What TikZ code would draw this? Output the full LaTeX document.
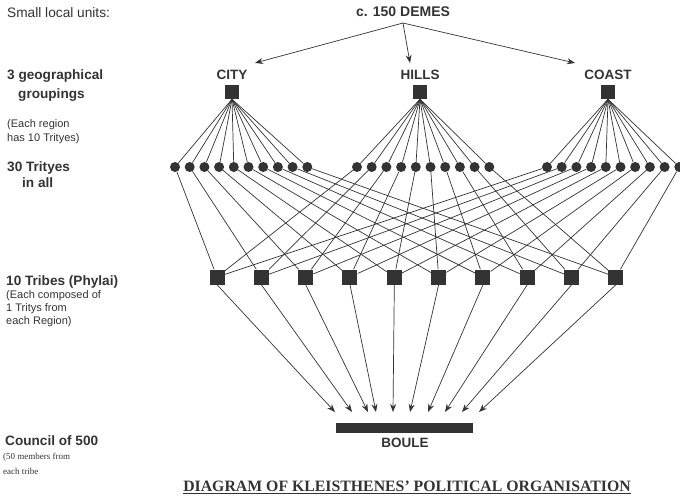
\documentclass[tikz,border=0pt]{standalone}
\usepackage{fontspec}
\setmainfont{Liberation Serif}
\setsansfont{Liberation Sans}
\usetikzlibrary{arrows.meta}

\definecolor{ink}{HTML}{333333}
\newcommand{\sfsize}[1]{\sffamily\fontsize{#1}{#1}\selectfont}

\tikzset{
  region/.style={fill=ink,minimum size=14pt,inner sep=0pt},
  trit/.style={circle,fill=ink,minimum size=10pt,inner sep=0pt},
  tribe/.style={fill=ink,minimum size=15pt,inner sep=0pt},
  link/.style={draw=ink,line width=0.7pt},
  feed/.style={link,-{Stealth[length=8pt,width=6pt]}},
  head/.style={font=\sfsize{13.5}\bfseries,text=ink,inner sep=0pt},
  side/.style={font=\sfsize{13.6}\bfseries,text=ink,anchor=west,inner sep=0pt},
  note/.style={font=\sfsize{11},text=ink,anchor=west,inner sep=0pt},
}

\begin{document}
\begin{tikzpicture}[x=1pt,y=-1pt]
  \useasboundingbox (0,0) rectangle (680,498);

  % left column
  \node[note,font=\sfsize{13.7}] (small) at (7,13) {Small local units:};
  \node[side] (geo1) at (7,76) {3 geographical};
  \node[side] (geo2) at (18,95) {groupings};
  \node[note] (geo3) at (7,125) {(Each region};
  \node[note] (geo4) at (7,139) {has 10 Trityes)};
  \node[side] (tri1) at (7,168) {30 Trityes};
  \node[side] (tri2) at (22,183) {in all};
  \node[side] (phy1) at (6,282) {10 Tribes (Phylai)};
  \node[note] (phy2) at (6,296) {(Each composed of};
  \node[note] (phy3) at (6,309) {1 Tritys from};
  \node[note] (phy4) at (6,322) {each Region)};
  \node[side] (cou1) at (5,441) {Council of 500};
  \node[anchor=west,inner sep=0pt,text=ink,font=\fontsize{9}{9}\selectfont] (cou2) at (3,457) {(50 members from};
  \node[anchor=west,inner sep=0pt,text=ink,font=\fontsize{9}{9}\selectfont] (cou3) at (3,471) {each tribe};

  % demes and regions
  \node[head,font=\sfsize{14}\bfseries] (demes) at (403,12) {c. 150 DEMES};
  \coordinate (fork) at (403,23);
  \foreach \name/\txt/\x/\tx in {city/CITY/232/255,hills/HILLS/420/410,coast/COAST/608/575} {
    \node[head] (\name-lbl) at (\x,75) {\txt};
    \node[region] (\name) at (\x,92) {};
    \coordinate (\name-in) at (\tx,63);
    \draw[feed] (fork) -- (\name-in);
  }

  % trityes
  \foreach \name/\x in {city/175,hills/357,coast/547} {
    \foreach \i in {1,...,10} {
      \node[trit] (\name\i) at ({\x+14.7*(\i-1)},167) {};
      \draw[link] (\name.south) -- (\name\i);
    }
  }

  % tribes and boule
  \node[fill=ink,minimum width=137pt,minimum height=10pt,inner sep=0pt] (boule) at (404.5,428) {};
  \node[head] (boule-lbl) at (405,443) {BOULE};
  \foreach \j/\tip in {1/335,2/352,3/368,4/376,5/393,6/410,7/428,8/445,9/462,10/479} {
    \node[tribe] (tribe\j) at ({217+44.33*(\j-1)},277) {};
    \coordinate (seat\j) at (\tip,412);
    \draw[feed] (tribe\j.south) -- (seat\j);
  }

  % one trittys from each region per tribe
  \foreach \j/\h/\c in {1/1/1,2/2/2,3/3/3,4/4/4,5/5/5,6/6/6,7/7/7,8/8/8,9/9/9,10/10/10} {
    \draw[link] (city\j) -- (tribe\j);
    \draw[link] (hills\h) -- (tribe\j);
    \draw[link] (coast\c) -- (tribe\j);
  }

  \node[text=ink,inner sep=0pt,font=\fontsize{15.8}{16}\selectfont\bfseries] (title) at (407,487)
    {\underline{DIAGRAM OF KLEISTHENES' POLITICAL ORGANISATION}};
\end{tikzpicture}
\end{document}
